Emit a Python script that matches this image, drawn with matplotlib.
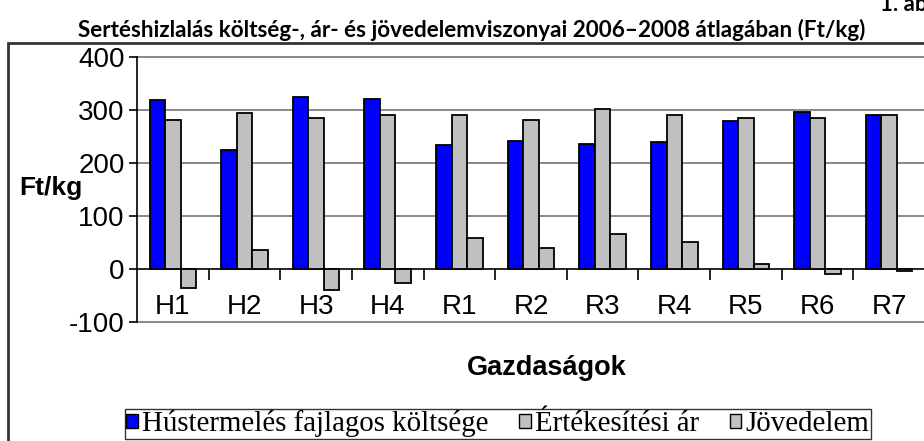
import matplotlib
matplotlib.use('Agg')
import matplotlib.pyplot as plt
from matplotlib.patches import Rectangle, Patch
import numpy as np

plt.rcParams['axes.unicode_minus'] = False

# data (Ft/kg)
farms = ['H1', 'H2', 'H3', 'H4', 'R1', 'R2', 'R3', 'R4', 'R5', 'R6', 'R7']
cost = [318, 225, 325, 321, 234, 242, 236, 239, 279, 297, 291]
price = [282, 294, 285, 291, 291, 282, 302, 291, 284, 284, 291]
income = [-36, 35, -40, -27, 58, 40, 66, 51, 9, -9, -3]
series_names = ['Hústermelés fajlagos költsége', 'Értékesítési ár', 'Jövedelem']

W, H = 924, 441
fig = plt.figure(figsize=(W / 100, H / 100), dpi=100)

# outer chart frame (runs off the right and bottom edges)
fig.patches.append(Rectangle((8 / W, -0.1), 1.2, 1 - 43 / H + 0.1,
                             transform=fig.transFigure, fill=False,
                             edgecolor='#333333', linewidth=2))

fig.text(472 / W, 1 - 30 / H,
         'Sertéshizlalás költség-, ár- és jövedelemviszonyai 2006\u20132008 átlagában (Ft/kg)',
         ha='center', va='center', fontsize=16.2, fontweight='bold', family='Lato')
fig.text(880 / W, 1 - 11 / H, '1. ábra', ha='left', va='baseline',
         fontsize=16, fontweight='bold', family='Lato')

left, right, top, bottom = 137, 925, 57, 322
ax = fig.add_axes([left / W, 1 - bottom / H, (right - left) / W, (bottom - top) / H])

x = np.arange(len(farms))
w = 0.217
ax.bar(x - w, cost, w, color='#0000FF', edgecolor='black', linewidth=1.3, zorder=3)
ax.bar(x, price, w, color='#C0C0C0', edgecolor='black', linewidth=1.3, zorder=3)
ax.bar(x + w, income, w, color='#C0C0C0', edgecolor='black', linewidth=1.3, zorder=3)

ax.set_xlim(-0.5, len(farms) - 0.5)
ax.set_ylim(-100, 400)
ax.set_yticks([-100, 0, 100, 200, 300, 400])
for v in [-100, 100, 200, 300, 400]:
    ax.axhline(v, color='#808080', linewidth=1.3, zorder=1, clip_on=False)

for s in ['top', 'right']:
    ax.spines[s].set_visible(False)
ax.spines['left'].set_linewidth(1.2)
ax.spines['bottom'].set_position(('data', 0))
ax.spines['bottom'].set_linewidth(1.2)

ax.set_xticks(x)
ax.set_xticklabels(farms)
ax.set_xticks(np.arange(0.5, len(farms) - 0.5, 1), minor=True)
ax.tick_params(axis='x', which='major', length=0, pad=18, labelsize=20)
ax.tick_params(axis='x', which='minor', length=8, width=1.2, direction='out')
ax.tick_params(axis='y', length=6, width=1.2, pad=3, labelsize=20)
for t in ax.get_xticklabels() + ax.get_yticklabels():
    t.set_family('Liberation Sans')

fig.text(19 / W, 1 - 188 / H, 'Ft/kg', ha='left', va='center',
         fontsize=19, fontweight='bold', family='Liberation Sans')
fig.text(547 / W, 1 - 368 / H, 'Gazdaságok', ha='center', va='center',
         fontsize=19.5, fontweight='bold', family='Liberation Sans')

handles = [Patch(facecolor='#0000FF', edgecolor='black'),
           Patch(facecolor='#C0C0C0', edgecolor='black'),
           Patch(facecolor='#C0C0C0', edgecolor='black')]
leg = fig.legend(handles, series_names, loc='upper left',
                 bbox_to_anchor=(125 / W, 1 - 409 / H), ncol=3,
                 prop={'family': 'Liberation Serif', 'size': 20.8},
                 frameon=True, fancybox=False, edgecolor='black',
                 handlelength=0.4, handleheight=0.4, handletextpad=0.15,
                 columnspacing=1.05, borderpad=0.05, borderaxespad=0)
leg.get_frame().set_linewidth(1)

fig.savefig('out.png', dpi=100)
